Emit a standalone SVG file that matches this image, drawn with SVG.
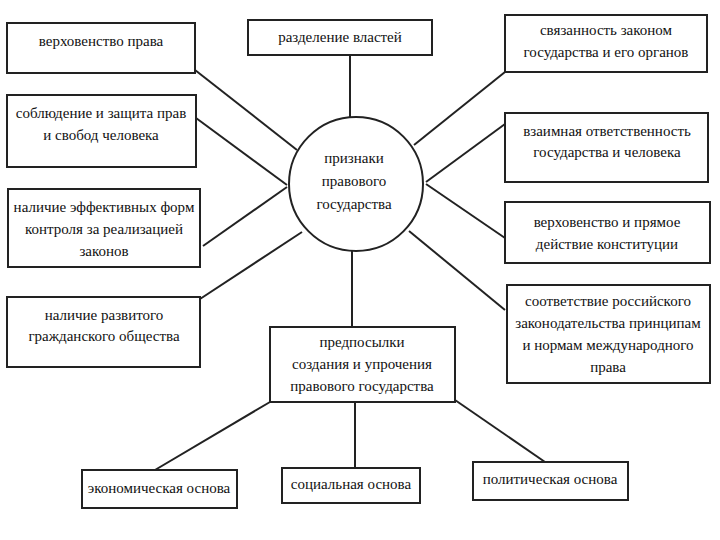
<svg xmlns="http://www.w3.org/2000/svg" width="720" height="540" viewBox="0 0 720 540">
<style>
.b{fill:#fff;stroke:#222;stroke-width:2}
.t{font-size:15px;fill:#111;text-anchor:middle}
.c line{stroke:#222;stroke-width:2}
</style>
<rect width="720" height="540" fill="#fff"/>
<g class="c" id="connectors">
<line x1="195" y1="70" x2="297" y2="150"/>
<line x1="196" y1="118" x2="287" y2="185"/>
<line x1="203" y1="246" x2="287" y2="187"/>
<line x1="200" y1="299" x2="302" y2="232"/>
<line x1="350" y1="55" x2="350" y2="117"/>
<line x1="505" y1="72" x2="414" y2="145"/>
<line x1="505" y1="124" x2="426" y2="182"/>
<line x1="505" y1="238" x2="426" y2="184"/>
<line x1="505" y1="310" x2="409" y2="231"/>
<line x1="352" y1="250" x2="352" y2="327"/>
<line x1="270" y1="402" x2="155" y2="470"/>
<line x1="355" y1="402" x2="355" y2="468"/>
<line x1="455" y1="400" x2="545" y2="462"/>
</g>
<g font-family="Liberation Serif, Times New Roman, serif">
<g id="center"><circle class="b" cx="356" cy="184" r="67"/>
<text class="t"><tspan x="354" y="163">признаки</tspan><tspan x="354" y="186">правового</tspan><tspan x="354" y="209">государства</tspan></text></g>
<g id="n1"><rect class="b" x="7" y="23" width="188" height="50"/><text class="t" x="101" y="46">верховенство права</text></g>
<g id="n2"><rect class="b" x="7" y="95" width="189" height="72"/><text class="t"><tspan x="101" y="118">соблюдение и защита прав</tspan><tspan x="101" y="140">и свобод человека</tspan></text></g>
<g id="n3"><rect class="b" x="8" y="189" width="192" height="78"/><text class="t"><tspan x="104" y="212">наличие эффективных форм</tspan><tspan x="104" y="234">контроля за реализацией</tspan><tspan x="104" y="256">законов</tspan></text></g>
<g id="n4"><rect class="b" x="7" y="297" width="193" height="70"/><text class="t"><tspan x="104" y="320">наличие развитого</tspan><tspan x="104" y="341">гражданского общества</tspan></text></g>
<g id="n5"><rect class="b" x="248" y="20" width="184" height="35"/><text class="t" x="340" y="42">разделение властей</text></g>
<g id="n6"><rect class="b" x="505" y="15" width="202" height="57"/><text class="t"><tspan x="606" y="35">связанность законом</tspan><tspan x="606" y="57">государства и его органов</tspan></text></g>
<g id="n7"><rect class="b" x="505" y="113" width="203" height="69"/><text class="t"><tspan x="607" y="136">взаимная ответственность</tspan><tspan x="607" y="157">государства и человека</tspan></text></g>
<g id="n8"><rect class="b" x="505" y="202" width="205" height="61"/><text class="t"><tspan x="607" y="227">верховенство и прямое</tspan><tspan x="607" y="249">действие  конституции</tspan></text></g>
<g id="n9"><rect class="b" x="507" y="285" width="203" height="98"/><text class="t"><tspan x="608" y="306">соответствие российского</tspan><tspan x="608" y="328">законодательства принципам</tspan><tspan x="608" y="350">и нормам международного</tspan><tspan x="608" y="372">права</tspan></text></g>
<g id="n10"><rect class="b" x="270" y="327" width="185" height="75"/><text class="t"><tspan x="362" y="347">предпосылки</tspan><tspan x="362" y="369">создания и упрочения</tspan><tspan x="362" y="391">правового государства</tspan></text></g>
<g id="n11"><rect class="b" x="82" y="470" width="155" height="38"/><text class="t" x="159" y="493">экономическая основа</text></g>
<g id="n12"><rect class="b" x="282" y="468" width="138" height="35"/><text class="t" x="351" y="489">социальная основа</text></g>
<g id="n13"><rect class="b" x="473" y="462" width="155" height="38"/><text class="t" x="550" y="484">политическая основа</text></g>
</g>
</svg>
